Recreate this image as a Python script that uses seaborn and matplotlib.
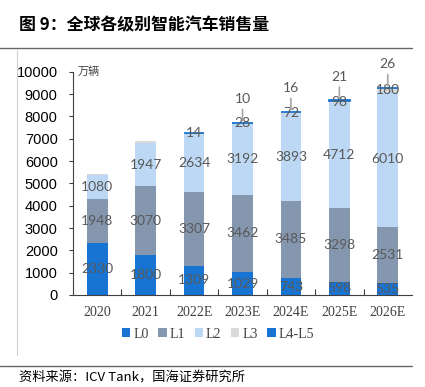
import numpy as np
import pandas as pd
import matplotlib
matplotlib.use("Agg")
import matplotlib.pyplot as plt
import seaborn as sns
from matplotlib.lines import Line2D
from matplotlib.patches import Patch

# ---- data ----
categories = ["2020", "2021", "2022E", "2023E", "2024E", "2025E", "2026E"]
L0 = [2330, 1800, 1309, 1029, 743, 598, 535]
L1 = [1948, 3070, 3307, 3462, 3485, 3298, 2531]
L2 = [1080, 1947, 2634, 3192, 3893, 4712, 6010]
L3 = [50, 60, 14, 28, 72, 98, 180]
L45 = [0, 0, 6, 10, 16, 21, 26]
L3_labeled = [False, False, True, True, True, True, True]
L45_labeled = [False, False, False, True, True, True, True]
series_names = ["L0", "L1", "L2", "L3", "L4-L5"]
yticks = [0, 1000, 2000, 3000, 4000, 5000, 6000, 7000, 8000, 9000, 10000]

colors = ["#1874D2", "#8596AF", "#BDD8F4", "#D9D9D9", "#1874D2"]

sns.set_theme(style="white")
plt.rcParams["font.family"] = ["Liberation Sans", "Noto Sans CJK SC", "DejaVu Sans"]

fig = plt.figure(figsize=(4.25, 3.87), dpi=100)
ax = fig.add_axes([73 / 425, 1 - 295 / 387, (412 - 73) / 425, (295 - 71.7) / 387])

layers = [L0, L1, L2, L3, L45]
bottom = np.zeros(len(categories))
bottoms = []
for vals, col in zip(layers, colors):
    bottoms.append(bottom.copy())
    is_top = vals is L45
    sns.barplot(x=categories, y=vals, bottom=bottom.copy(), color=col,
                saturation=1, width=0.43, ax=ax,
                edgecolor=col if is_top else "none",
                linewidth=1.3 if is_top else 0)
    bottom = bottom + np.array(vals)

# no outline on empty top segments
for patch, v in zip(ax.containers[-1], L45):
    if v == 0:
        patch.set_linewidth(0)
        patch.set_edgecolor("none")

label_color = "#595959"
lab_font = dict(family=["Lato", "DejaVu Sans"], fontsize=10, color=label_color)
# in-segment labels for L0, L1, L2, L3
for li, vals in enumerate([L0, L1, L2, L3]):
    for i, v in enumerate(vals):
        if li == 3 and not L3_labeled[i]:
            continue
        ax.text(i, bottoms[li][i] + v / 2, f"{v}", ha="center", va="center", **lab_font)
# L4-L5 labels above with leader lines
for i, v in enumerate(L45):
    if not L45_labeled[i]:
        continue
    top = bottoms[4][i] + v
    ax.annotate(f"{v}", xy=(i, top), xytext=(0, 17), textcoords="offset points",
                ha="center", va="center", **lab_font)
    ax.annotate("", xy=(i, top), xytext=(0, 9.5), textcoords="offset points",
                arrowprops=dict(arrowstyle="-", color="#A6A6A6", lw=1.2,
                                shrinkA=0, shrinkB=1.5))

ax.set_xlim(-0.5, 6.5)
ax.set_ylim(0, 10000)
ax.set_yticks(yticks)
ax.set_yticklabels([str(t) for t in yticks], fontsize=10.5, color="#000000")
ax.set_xticks(range(len(categories)))
ax.set_xticklabels(categories, family=["Liberation Serif"], fontsize=10, color="#404040")
ax.set_xlabel("")
ax.set_ylabel("")
ax.tick_params(axis="y", which="major", direction="out", length=3, width=0.8,
               color="#404040", pad=8, left=True)
ax.tick_params(axis="x", which="major", length=0, pad=8)
ax.set_xticks(np.arange(0.5, 6.5, 1), minor=True)
ax.tick_params(axis="x", which="minor", direction="in", length=4, width=0.8,
               color="#404040", bottom=True)
for s in ["top", "right"]:
    ax.spines[s].set_visible(False)
for s in ["left", "bottom"]:
    ax.spines[s].set_color("#404040")
    ax.spines[s].set_linewidth(0.8)

ax.text(0.015, 1.0, "万辆", transform=ax.transAxes, ha="left", va="center",
        family=["Noto Sans CJK SC"], fontsize=8, color="#404040")

# legend
handles = [Patch(facecolor=c, edgecolor="none") for c in colors]
fig.legend(handles, series_names, loc="center", bbox_to_anchor=(218 / 425, 1 - 334 / 387),
           ncol=5, frameon=False, handlelength=0.6, handleheight=0.6, handletextpad=0.2,
           columnspacing=0.7, prop={"family": "Liberation Serif", "size": 10},
           labelcolor="#404040")

# title, rules, source
fig.text(19 / 425, 1 - 25 / 387, "图 9：全球各级别智能汽车销售量", ha="left", va="center",
         family=["Noto Sans CJK SC"], fontsize=12.2, fontweight="bold", color="#000000")
fig.add_artist(Line2D([0, 412 / 425], [1 - 47.5 / 387] * 2, transform=fig.transFigure,
                      color="#666666", lw=1.0))
fig.add_artist(Line2D([0, 412 / 425], [1 - 365.7 / 387] * 2, transform=fig.transFigure,
                      color="#666666", lw=1.0))
fig.add_artist(Line2D([17.3 / 425] * 2, [1 - 50 / 387, 1 - 355 / 387], transform=fig.transFigure,
                      color="#D0D0D0", lw=0.8))
fig.text(19 / 425, 1 - 378 / 387, "资料来源：ICV Tank，国海证券研究所", ha="left", va="center",
         family=["Noto Sans CJK SC"], fontsize=9.5, color="#000000")

fig.savefig("out.png", dpi=100)
